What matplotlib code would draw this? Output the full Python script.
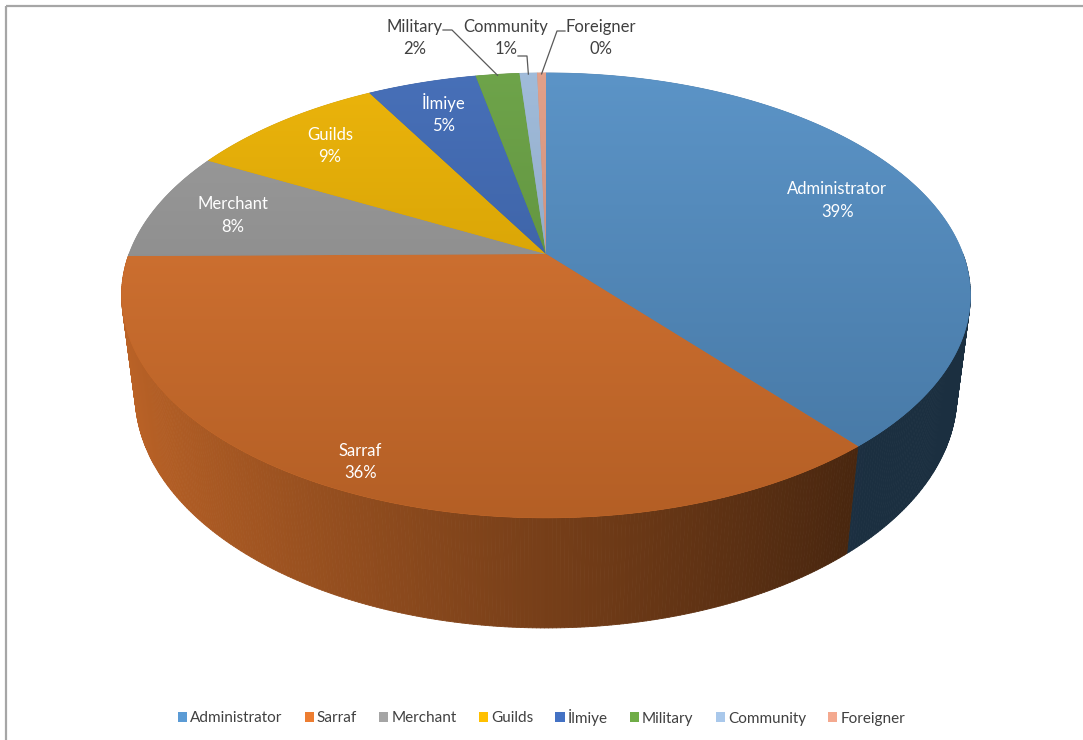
import numpy as np
import matplotlib
matplotlib.use('Agg')
import matplotlib.pyplot as plt
from matplotlib.patches import Polygon, Rectangle, Patch
from matplotlib.collections import PolyCollection
from matplotlib.colors import to_rgb

plt.rcParams['font.family'] = ['Lato', 'DejaVu Sans']

# --- data ---
labels = ['Administrator', 'Sarraf', 'Merchant', 'Guilds', 'İlmiye',
          'Military', 'Community', 'Foreigner']
shares = [39, 36, 8, 9, 5, 2, 0.8, 0.4]
colors = ['#5B9BD5', '#ED7D31', '#A5A5A5', '#FFC000', '#4472C4',
          '#70AD47', '#A9C8EB', '#F4A98F']

# --- camera for the 3D pie (pixel space) ---
cx, cy = 546, 254
scale = 417.0
dist = 4.61
elev = np.radians(31)
height = 0.284


def project(x, y, z):
    depth = dist + y * np.cos(elev) - z * np.sin(elev)
    px = cx + scale * dist * x / depth
    py = cy - scale * dist * (y * np.sin(elev) + z * np.cos(elev)) / depth
    return px, py, depth


def side_shade(t):
    return max(0.3, 0.5 - 0.3 * np.sin(t))


frac = np.array(shares) / np.sum(shares)
ends = np.cumsum(frac) * 2 * np.pi
starts = ends - frac * 2 * np.pi

fig = plt.figure(figsize=(10.83, 7.40), dpi=100)
ax = fig.add_axes([0, 0, 1, 1])
ax.set_xlim(0, 1083)
ax.set_ylim(740, 0)
ax.axis('off')

# chart border
ax.add_patch(Rectangle((6, 6), 1200, 1000, fill=False, edgecolor='#A6A6A6', lw=1.6))

# --- side wall ---
quads, qcols, qdepth = [], [], []
for i in range(len(shares)):
    lo, hi = max(starts[i], np.pi / 2), min(ends[i], 1.5 * np.pi)
    if hi <= lo:
        continue
    ts = np.linspace(lo, hi, max(2, int((hi - lo) / 0.008)))
    base = np.array(to_rgb(colors[i]))
    for t0, t1 in zip(ts[:-1], ts[1:]):
        pts = [project(np.sin(t), np.cos(t), z)[:2]
               for t, z in ((t0, 0), (t1, 0), (t1, -height), (t0, -height))]
        tm = (t0 + t1) / 2
        quads.append(pts)
        qcols.append(np.clip(base * side_shade(tm), 0, 1))
        qdepth.append(project(np.sin(tm), np.cos(tm), -height / 2)[2])
order = np.argsort(qdepth)[::-1]
side = PolyCollection([quads[k] for k in order],
                      facecolors=[qcols[k] for k in order],
                      edgecolors=[qcols[k] for k in order], linewidths=0.6, zorder=1)
ax.add_collection(side)

# --- top faces with vertical gradient ---
ytop = project(0, 1, 0)[1]
ybot = project(0, -1, 0)[1]
tt = np.linspace(0, 1, 256)
for i in range(len(shares)):
    ts = np.linspace(starts[i], ends[i], max(3, int((ends[i] - starts[i]) / 0.005)))
    pts = [(cx, cy)] + [project(np.sin(t), np.cos(t), 0)[:2] for t in ts]
    base = np.array(to_rgb(colors[i]))
    poly = Polygon(pts, closed=True, facecolor=base * 0.84, edgecolor=base * 0.84,
                   lw=0.5, zorder=2)
    ax.add_patch(poly)
    f = 0.88 - 0.12 * tt
    w = 0.045 * (1 - tt)
    img = np.clip(base[None, :] * f[:, None] + w[:, None], 0, 1)
    im = ax.imshow(img[:, None, :], extent=(100, 1000, ybot, ytop), aspect='auto',
                   interpolation='bilinear', zorder=3)
    im.set_clip_path(poly)

ax.set_xlim(0, 1083)
ax.set_ylim(740, 0)

# --- data labels ---
pct = [f"{round(v * 100):d}%" for v in frac]
inner_radius = {0: 0.78, 1: 0.9, 2: 0.8, 3: 0.8, 4: 0.8}
for i, r in inner_radius.items():
    tm = (starts[i] + ends[i]) / 2
    x, y, _ = project(r * np.sin(tm), r * np.cos(tm), 0)
    ax.text(x, y + 1, f"{labels[i]}\n{pct[i]}", ha='center', va='center',
            color='white', fontsize=12, linespacing=1.5, zorder=5)

# outside labels with leader lines
outer = {5: ((415, 38), (443, 30), (452, 30)),
         6: ((506, 38), (518, 56), (527, 56)),
         7: ((601, 38), (565, 31), (557, 31))}
for i, (tpos, p0, p1) in outer.items():
    tm = (starts[i] + ends[i]) / 2
    ex, ey, _ = project(np.sin(tm), np.cos(tm), 0)
    ax.plot([p0[0], p1[0], ex], [p0[1], p1[1], ey + 1], color='#595959', lw=0.9, zorder=4)
    ax.text(tpos[0], tpos[1], f"{labels[i]}\n{pct[i]}", ha='center', va='center',
            color='#404040', fontsize=12, linespacing=1.5, zorder=5)

# --- legend ---
handles = [Patch(facecolor=c, edgecolor='none') for c in colors]
ax.legend(handles, labels, loc='center', bbox_to_anchor=(0.5, 1 - 717 / 740), ncol=8,
          frameon=False, fontsize=11, handlelength=0.6, handleheight=0.6,
          handletextpad=0.2, columnspacing=1.45, labelcolor='#404040')

fig.savefig('out.png', dpi=100)
